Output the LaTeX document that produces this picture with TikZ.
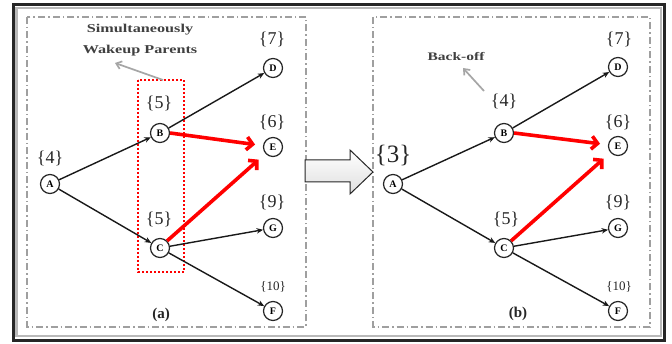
\documentclass[tikz,border=0pt]{standalone}
\usepackage{fontspec}
\setmainfont{Liberation Serif}
\usetikzlibrary{arrows.meta}
\newcommand{\wide}[1]{\scalebox{1.35}[1]{#1}}
\begin{document}
\begin{tikzpicture}[x=1pt,y=-1pt,
  nd/.style={circle,draw=black!85,line width=1.2pt,fill=white,minimum size=19pt,inner sep=0pt,font=\bfseries\fontsize{10}{10}\selectfont},
  lbl/.style={font=\fontsize{18}{18}\selectfont,text=black!85,inner sep=0pt},
  slbl/.style={font=\fontsize{13}{13}\selectfont,text=black!85,inner sep=0pt},
  blk/.style={-{Stealth[length=6.5pt,width=5.5pt]},line width=1.4pt,black!90},
  redarr/.style={-{Straight Barb[length=6pt,width=13pt]},line width=3.6pt,red,shorten >=2pt},
  grayarr/.style={-{Straight Barb[length=5pt,width=8pt]},line width=1.7pt,gray!70},
  panel/.style={draw=gray!75,line width=1.5pt,dash pattern=on 7pt off 3pt on 1.5pt off 3pt},
  ann/.style={font=\bfseries\fontsize{12}{21}\selectfont,text=black!75,align=center,inner sep=0pt}]
\useasboundingbox (0,0) rectangle (672,344);
\fill[white] (0,0) rectangle (672,344);
% outer frame
\draw[line width=3pt,black!85] (13.5,5) rectangle (664,340.5);
\draw[line width=2.5pt,gray!55] (16.5,8) rectangle (661,336);
% panels
\draw[panel] (27,17) rectangle (306,327);
\draw[panel] (373,17) rectangle (650,327);
% hollow arrow
\draw[line width=1pt,black!85,top color=white,bottom color=gray!25]
  (305,160) -- (350,160) -- (350,150) -- (373,172) -- (350,194) -- (350,182) -- (305,182) -- cycle;
% ===== panel (a)
\node[nd] (A) at (50,184) {A};
\node[nd] (B) at (160,133) {B};
\node[nd] (C) at (160,248) {C};
\node[nd] (D) at (273,68) {D};
\node[nd] (E) at (273,147) {E};
\node[nd] (G) at (273,228) {G};
\node[nd] (F) at (273,311) {F};
\node[lbl] (lA) at (50,158) {\{4\}};
\node[lbl] (lB) at (159,103) {\{5\}};
\node[lbl] (lD) at (272,39) {\{7\}};
\node[lbl] (lE) at (272,122) {\{6\}};
\node[lbl] (lC) at (159,219) {\{5\}};
\node[lbl] (lG) at (272,202) {\{9\}};
\node[slbl] (lF) at (273,287) {\{10\}};
\node[font=\bfseries\fontsize{15}{15}\selectfont,text=black!85] (pa) at (161,315) {(a)};
\draw[red,line width=1.2pt,dash pattern=on 2pt off 2pt] (138,80) rectangle (184,272);
\node[ann] (sim) at (140,40) {\wide{Simultaneously}\\\wide{Wakeup Parents}};
\coordinate (simS) at (163,80);
\coordinate (simE) at (115,63);
\draw[grayarr] (simS) -- (simE);
\draw[blk] (A) -- (B);
\draw[blk] (A) -- (C);
\draw[blk] (B) -- (D);
\draw[blk] (C) -- (G);
\draw[blk] (C) -- (F);
\draw[redarr,shorten >=8pt] (B.east) -- (E);
\draw[redarr,shorten >=9pt] (C.north east) -- (E);
% ===== panel (b)
\node[nd] (A2) at (393,184) {A};
\node[nd] (B2) at (504,133) {B};
\node[nd] (C2) at (504,248) {C};
\node[nd] (D2) at (618,67) {D};
\node[nd] (E2) at (618,146) {E};
\node[nd] (G2) at (618,228) {G};
\node[nd] (F2) at (618,311) {F};
\node[lbl,font=\fontsize{25}{25}\selectfont] (lA2) at (393,156) {\{3\}};
\node[lbl] (lB2) at (504,101) {\{4\}};
\node[lbl] (lD2) at (619,39) {\{7\}};
\node[lbl] (lE2) at (618,122) {\{6\}};
\node[lbl] (lC2) at (506,219) {\{5\}};
\node[lbl] (lG2) at (618,202) {\{9\}};
\node[slbl] (lF2) at (619,287) {\{10\}};
\node[font=\bfseries\fontsize{15}{15}\selectfont,text=black!85] (pb) at (518,314) {(b)};
\node[ann,font=\bfseries\fontsize{11.5}{12}\selectfont] (bo) at (456,57) {\wide{Back-off}};
\coordinate (boS) at (484,91);
\coordinate (boE) at (463,68);
\draw[grayarr] (boS) -- (boE);
\draw[blk] (A2) -- (B2);
\draw[blk] (A2) -- (C2);
\draw[blk] (B2) -- (D2);
\draw[blk] (C2) -- (G2);
\draw[blk] (C2) -- (F2);
\draw[redarr,shorten >=8pt] (B2.east) -- (E2);
\draw[redarr,shorten >=9pt] (C2.north east) -- (E2);
\end{tikzpicture}
\end{document}
